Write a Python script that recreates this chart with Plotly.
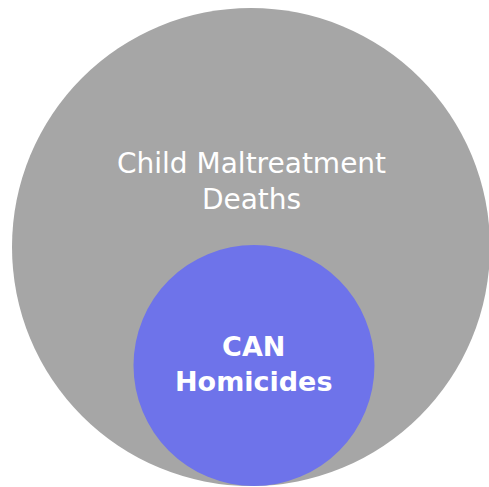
import plotly.graph_objects as go

# Data
circle_labels = ["Child Maltreatment<br>Deaths", "<b>CAN</b><br><b>Homicides</b>"]
circle_cx = [251, 254]
circle_cy = [247, 365.5]
circle_r = [239, 120.5]
circle_colors = ["#A6A6A6", "#6E73EA"]
label_y = [181, 364]
label_sizes = [28, 27]

fig = go.Figure()
for cx, cy, r, col in zip(circle_cx, circle_cy, circle_r, circle_colors):
    fig.add_shape(type="circle", xref="x", yref="y",
                  x0=cx - r, x1=cx + r, y0=cy - r, y1=cy + r,
                  fillcolor=col, line=dict(width=0), layer="below")

for lab, cx, ly, sz in zip(circle_labels, circle_cx, label_y, label_sizes):
    fig.add_annotation(x=cx, y=ly, xref="x", yref="y", text=lab, showarrow=False,
                       font=dict(family="DejaVu Sans", size=sz, color="white"),
                       align="center")

fig.update_xaxes(range=[0, 489], visible=False, fixedrange=True)
fig.update_yaxes(range=[487, 0], visible=False, fixedrange=True)
fig.update_layout(width=489, height=487, margin=dict(l=0, r=0, t=0, b=0),
                  paper_bgcolor="white", plot_bgcolor="white", showlegend=False)
fig.write_html("out.html", config={"displayModeBar": False},
               post_script="document.body.style.margin='0';")
